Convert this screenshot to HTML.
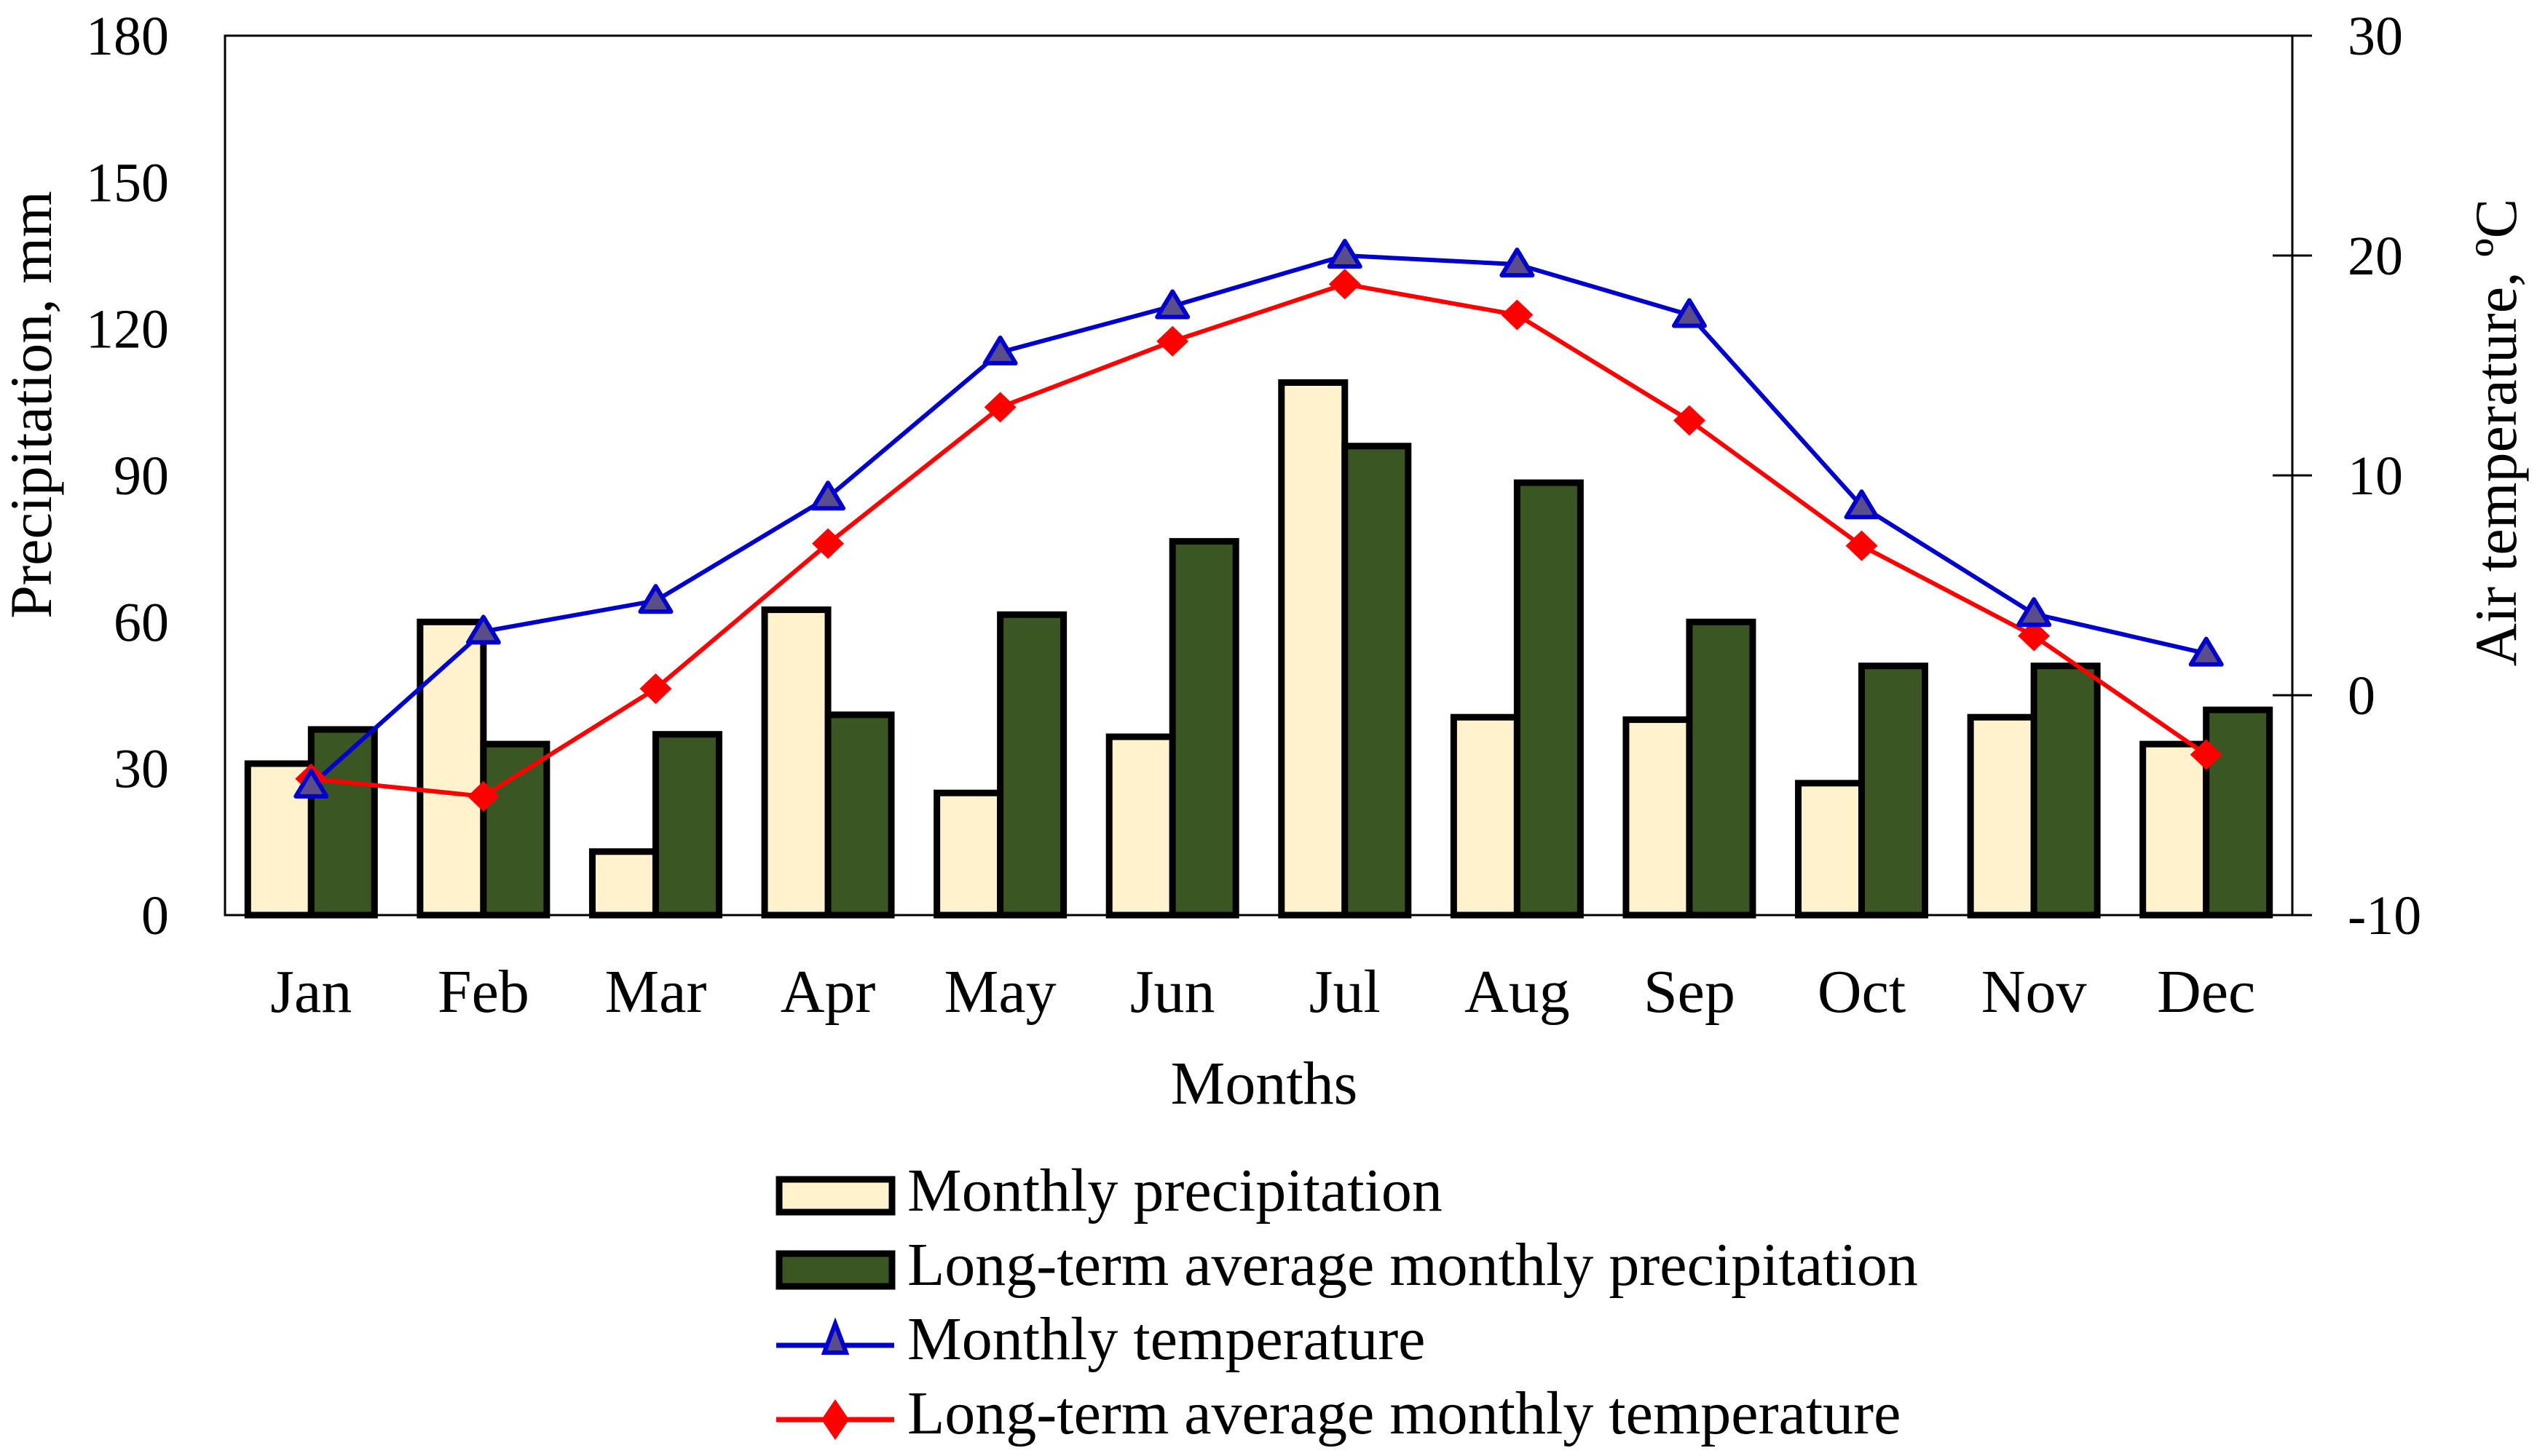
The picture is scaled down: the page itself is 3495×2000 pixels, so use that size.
<!DOCTYPE html>
<html><head><meta charset="utf-8"><style>
html,body{margin:0;padding:0;background:#fff;}
svg{display:block;font-family:"Liberation Serif",serif;}
</style></head><body>
<svg id="chart" width="3495" height="2000" viewBox="0 0 3495 2000" xmlns="http://www.w3.org/2000/svg">
<g id="bars"></g>
<g id="axes"></g>
<g id="lines"></g>
<text x="0" y="0" font-size="82" text-anchor="middle" transform="translate(70,556) rotate(-90)">Precipitation, mm</text>
<text x="0" y="0" font-size="82" text-anchor="middle" transform="translate(3455,594) rotate(-90)">Air temperature, ºC</text>
<text x="1736" y="1516" font-size="84" text-anchor="middle">Months</text>
<g>
  <g>
    <rect x="1070" y="1620" width="155" height="45" fill="#fff2cf" stroke="#000" stroke-width="9"/>
    <text x="1246" y="1663" font-size="84">Monthly precipitation</text>
  </g>
  <g>
    <rect x="1070" y="1722" width="155" height="45" fill="#3b5524" stroke="#000" stroke-width="9"/>
    <text x="1246" y="1765" font-size="84">Long-term average monthly precipitation</text>
  </g>
  <g>
    <line x1="1066" y1="1848" x2="1228" y2="1848" stroke="#0000cc" stroke-width="7"/>
    <polygon points="1147,1818 1132,1858 1162,1858" fill="#5a4d8a" stroke="#0000cc" stroke-width="6"/>
    <text x="1246" y="1867" font-size="84">Monthly temperature</text>
  </g>
  <g>
    <line x1="1066" y1="1950" x2="1228" y2="1950" stroke="#ff0000" stroke-width="7"/>
    <polygon points="1147,1922 1166,1950 1147,1978 1128,1950" fill="#ff0000"/>
    <text x="1246" y="1969" font-size="84">Long-term average monthly temperature</text>
  </g>
</g>
</svg>
<script>
const months = ["Jan","Feb","Mar","Apr","May","Jun","Jul","Aug","Sep","Oct","Nov","Dec"];
const monthlyPrecip = [31,60,13,62.5,25,36.5,109,40.5,40,27,40.5,35];
const longTermPrecip = [38,35,37,41,61.5,76.5,96,88.5,60,51,51,42];
const monthlyTemp = [-4.1,2.9,4.3,9.0,15.6,17.7,20.0,19.6,17.3,8.6,3.7,1.9];
const longTermTemp = [-3.8,-4.6,0.3,6.9,13.1,16.1,18.7,17.3,12.5,6.8,2.7,-2.7];
const precipTicks = [0,30,60,90,120,150,180];
const tempTicks = [-10,0,10,20,30];

const NS = "http://www.w3.org/2000/svg";
const L = 309, R = 3148, T = 49, B = 1257;
const step = (R - L) / months.length;
const barW = 87;
function xc(i){ return L + step * (i + 0.5); }
function yP(v){ return B - (v / 180) * (B - T); }
function yT(v){ return B - ((v + 10) / 40) * (B - T); }
function mk(tag, attrs, parent){
  const e = document.createElementNS(NS, tag);
  for (const k in attrs) e.setAttribute(k, attrs[k]);
  parent.appendChild(e);
  return e;
}
const bars = document.getElementById('bars');
const axes = document.getElementById('axes');
const lines = document.getElementById('lines');

months.forEach((m, i) => {
  const c = xc(i);
  const b1 = mk('rect', {x: c - barW, y: yP(monthlyPrecip[i]), width: barW, height: B - yP(monthlyPrecip[i]), fill: '#fff2cf', stroke: '#000', 'stroke-width': 9}, bars);
  
  
  const b2 = mk('rect', {x: c, y: yP(longTermPrecip[i]), width: barW, height: B - yP(longTermPrecip[i]), fill: '#3b5524', stroke: '#000', 'stroke-width': 9}, bars);
  
  
  const t = mk('text', {x: c, y: 1390, 'font-size': 84, 'text-anchor': 'middle'}, axes);
  t.textContent = m;
  
  
});

const frame = mk('path', {d: `M${L},${B} L${L},${T} L${R},${T} L${R},${B} Z`, fill: 'none', stroke: '#000', 'stroke-width': 3}, axes);



precipTicks.forEach(v => {
  const t = mk('text', {x: 232, y: yP(v) + 26, 'font-size': 76, 'text-anchor': 'end'}, axes);
  t.textContent = v;
  
  
});
tempTicks.forEach(v => {
  const tk = mk('line', {x1: R - 27, x2: R + 27, y1: yT(v), y2: yT(v), stroke: '#000', 'stroke-width': 3}, axes);
  
  
  const t = mk('text', {x: 3224, y: yT(v) + 26, 'font-size': 76}, axes);
  t.textContent = v;
  
  
});

const pm = mk('polyline', {points: monthlyTemp.map((v,i)=>xc(i)+','+yT(v)).join(' '), fill: 'none', stroke: '#0000cc', 'stroke-width': 6}, lines);


const pl = mk('polyline', {points: longTermTemp.map((v,i)=>xc(i)+','+yT(v)).join(' '), fill: 'none', stroke: '#ff0000', 'stroke-width': 6}, lines);



longTermTemp.forEach((v, i) => {
  const x = xc(i), y = yT(v);
  const d = mk('polygon', {points: `${x},${y-21} ${x+22},${y} ${x},${y+21} ${x-22},${y}`, fill: '#ff0000'}, lines);
  
  
});
monthlyTemp.forEach((v, i) => {
  const x = xc(i), y = yT(v);
  const p = mk('polygon', {points: `${x},${y-20} ${x+21},${y+15} ${x-21},${y+15}`, fill: '#5a4d8a', stroke: '#0000cc', 'stroke-width': 6, 'stroke-linejoin': 'round'}, lines);
  
  
});
</script>
</body></html>
